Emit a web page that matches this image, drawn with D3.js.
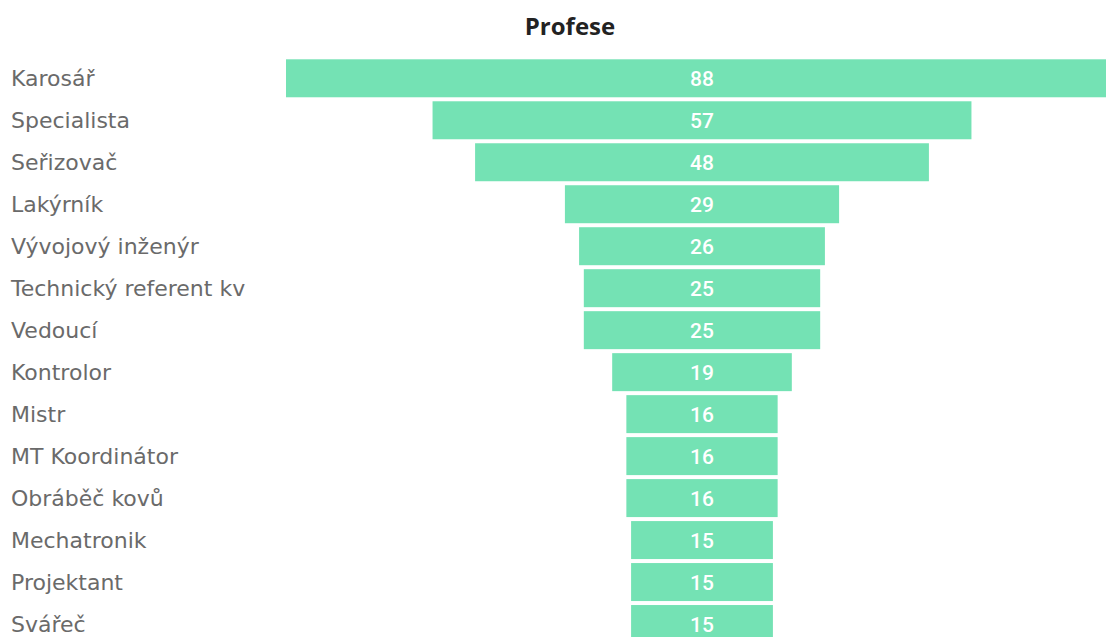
<!DOCTYPE html>
<html lang="cs">
<head>
  <meta charset="UTF-8" />
  <title>Profese</title>
  <script src="https://cdn.jsdelivr.net/npm/d3@7"></script>
  <style>
    body {
      margin: 0;
      background: #fff;
      overflow: hidden;
    }
    svg {
      display: block;
    }
    .label {
      font-family: "DejaVu Sans", sans-serif;
      font-size: 22px;
      fill: #6a6a6a;
    }
    .value {
      font-family: Roboto, sans-serif;
      font-size: 21px;
      font-weight: 500;
      fill: #fff;
    }
    .title {
      font-family: "Open Sans", sans-serif;
      font-size: 24px;
      font-weight: 700;
      fill: #222;
    }
  </style>
</head>
<body>
  <div id="chart"></div>
  <script>
    const categories = ["Karosář", "Specialista", "Seřizovač", "Lakýrník", "Vývojový inženýr",
      "Technický referent kv", "Vedoucí", "Kontrolor", "Mistr", "MT Koordinátor",
      "Obráběč kovů", "Mechatronik", "Projektant", "Svářeč"];
    const values = [88, 57, 48, 29, 26, 25, 25, 19, 16, 16, 16, 15, 15, 15];

    const width = 1106;
    const height = 637;
    const centerX = 702;
    const topY = 57.3;
    const step = 41.98;

    const svg = d3.select("#chart")
      .append("svg")
      .attr("width", width)
      .attr("height", height);

    svg.append("text")
      .attr("class", "title")
      .attr("x", 570)
      .attr("y", 35)
      .attr("text-anchor", "middle")
      .text("Profese");

    const y = d3.scaleBand()
      .domain(categories)
      .range([topY, topY + step * categories.length])
      .paddingInner(4 / step)
      .paddingOuter(2 / step);

    // bar width in px per unit, 88 -> ~832px (clipped at the right edge)
    const w = d3.scaleLinear()
      .domain([0, 88])
      .range([0, 832]);

    const rows = svg.selectAll(".row")
      .data(categories)
      .enter()
      .append("g")
      .attr("class", "row");

    rows.append("rect")
      .attr("x", (d, i) => centerX - w(values[i]) / 2)
      .attr("y", d => y(d))
      .attr("width", (d, i) => w(values[i]))
      .attr("height", y.bandwidth())
      .attr("fill", "#74e2b4");

    rows.append("text")
      .attr("class", "value")
      .attr("x", centerX)
      .attr("y", d => y(d) + y.bandwidth() / 2)
      .attr("dy", "0.36em")
      .attr("text-anchor", "middle")
      .text((d, i) => values[i]);

    rows.append("text")
      .attr("class", "label")
      .attr("x", 11)
      .attr("y", d => y(d) + y.bandwidth() / 2)
      .attr("dy", "0.36em")
      .text(d => d);
  </script>
</body>
</html>
